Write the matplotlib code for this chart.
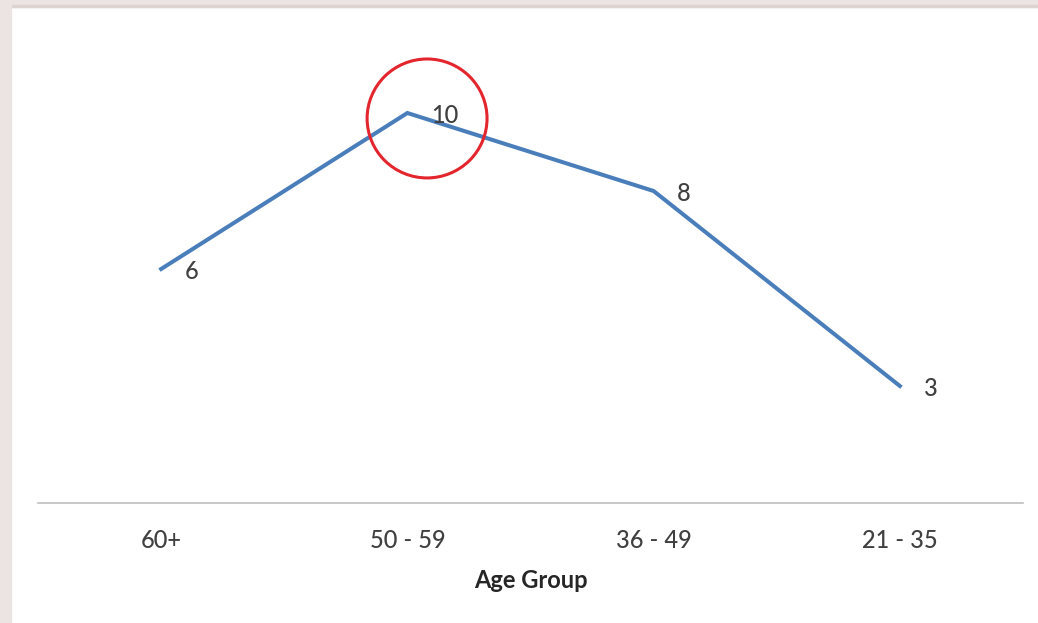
import matplotlib.pyplot as plt
from matplotlib.patches import Ellipse, Rectangle

age_groups = ["60+", "50 - 59", "36 - 49", "21 - 35"]
counts = [6, 10, 8, 3]

W, H = 1038, 623
LINE_BLUE = "#4a7ebb"
TEXT = "#404040"
FRAME = "#ece4e2"

fig = plt.figure(figsize=(W / 100, H / 100), dpi=100)
fig.patch.set_facecolor("white")

# frame strips along the top and left edge
fig.add_artist(Rectangle((0, 1 - 7 / H), 1, 7 / H, transform=fig.transFigure,
                         color=FRAME, zorder=0))
fig.add_artist(Rectangle((0, 1 - 6.5 / H), 1, 2 / H, transform=fig.transFigure,
                         color="#ddd3d0", zorder=0))
fig.add_artist(Rectangle((0, 0), 11 / W, 1, transform=fig.transFigure,
                         color=FRAME, zorder=0))

ax = fig.add_axes([38 / W, 120 / H, 985 / W, 468 / H])
ax.set_facecolor("none")
x = range(len(age_groups))
ax.plot(x, counts, color=LINE_BLUE, lw=2.9, solid_joinstyle="miter")

for xi, v in zip(x, counts):
    ax.annotate(str(v), (xi, v), xytext=(17, -2), textcoords="offset points",
                ha="left", va="center", fontsize=17, color=TEXT,
                family="Lato", fontweight="medium")

# highlight ring around the peak
peak = counts.index(max(counts))
ax.add_patch(Ellipse((peak + 0.08, max(counts) - 0.14), 0.487, 3.05,
                     fill=False, edgecolor="#e3262d", lw=2.2, zorder=5))

ax.set_xlim(-0.5, len(age_groups) - 0.5)
ax.set_ylim(0, 12)
ax.set_xticks(list(x))
ax.set_xticklabels(age_groups, fontsize=17, color=TEXT, family="Lato",
                   fontweight="medium")
ax.tick_params(axis="x", length=0, pad=19)
ax.set_yticks([])
for s in ["top", "right", "left"]:
    ax.spines[s].set_visible(False)
ax.spines["bottom"].set_color("#bfbfbf")
ax.spines["bottom"].set_linewidth(1.2)
ax.set_xlabel("Age Group", fontsize=17, fontweight="bold", color="#262626",
              family="Lato", labelpad=12)

fig.savefig("out.png", dpi=100, facecolor="white")
